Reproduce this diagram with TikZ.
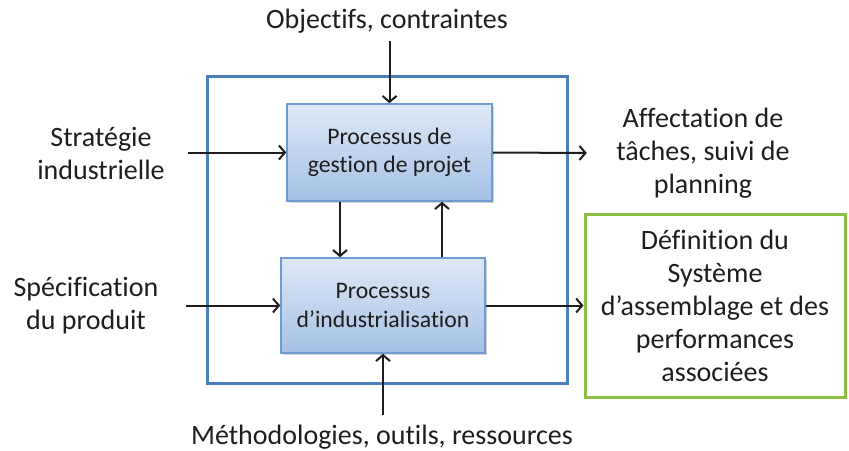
\documentclass[tikz,border=0pt]{standalone}
\usepackage{fontspec}
\setmainfont{Carlito}[Ligatures=NoCommon]
\usetikzlibrary{arrows.meta,shadows}
\definecolor{cadrebleu}{RGB}{74,126,187}
\definecolor{bordbleu}{RGB}{110,155,210}
\definecolor{hautbleu}{RGB}{222,233,247}
\definecolor{basbleu}{RGB}{164,192,229}
\definecolor{vert}{RGB}{140,190,70}
\definecolor{texte}{RGB}{30,30,30}
\tikzstyle{processus} = [
  draw=bordbleu,
  line width=1.5pt,
  rectangle,
  top color=hautbleu,
  bottom color=basbleu,
  drop shadow={shadow xshift=2pt,shadow yshift=-2pt,opacity=0.35},
  align=center,
  text=texte,
  font=\fontsize{23.7}{28.5}\selectfont,
]
\tikzstyle{etiquette} = [
  align=center,
  text=texte,
  font=\fontsize{28}{33}\selectfont,
]
\tikzstyle{resultat} = [
  draw=vert,
  line width=3pt,
  rectangle,
  align=center,
  text=texte,
  font=\fontsize{28}{33}\selectfont,
]

\begin{document}
\begin{tikzpicture}[
    x=1pt,y=-1pt,
    >={Straight Barb[length=6pt,width=14pt]},
    fleche/.style={->,line width=2pt,draw=texte},
  ]
  \useasboundingbox (0,0) rectangle (849,450);
  \node[
    draw=cadrebleu,
    line width=3pt,
    minimum width=360pt,
    minimum height=307pt,
  ](cadre) at (387,229.5){};
  \node[
    processus,
    minimum width=205pt,
    minimum height=97pt,
  ](gestion) at (389.5,152.5){Processus de\\gestion de projet};
  \node[
    processus,
    minimum width=204pt,
    minimum height=95pt,
  ](indus) at (383,305.5){Processus\\d’industrialisation};
  \node[etiquette](objectifs) at (387,21){Objectifs, contraintes};
  \node[etiquette](methodo) at (382,437){Méthodologies, outils, ressources};
  \node[etiquette](strategie) at (101,153){Stratégie\\industrielle};
  \node[etiquette](specif) at (86,306){Spécification\\du produit};
  \node[etiquette](affectation) at (703,153){Affectation de\\tâches, suivi de\\planning};
  \node[
    resultat,
    minimum width=260pt,
    minimum height=183pt,
  ](definition) at (715,305.5){Définition du\\Système\\d’assemblage et des\\performances\\associées};
  \draw[fleche] ([yshift=-4pt]objectifs.south -| gestion.north) -- (gestion.north);
  \draw[fleche] ([yshift=6pt]methodo.north -| indus.south) -- (indus.south);
  \draw[fleche] (188,0 |- gestion.west) -- (gestion.west);
  \draw[fleche] (186,0 |- indus.west) -- (indus.west);
  \draw[fleche] (gestion.east) -- ([xshift=-26pt]affectation.west);
  \draw[fleche] (indus.east) -- (definition.west);
  \draw[fleche] ([xshift=-49.5pt]gestion.south) -- ([xshift=-49.5pt]gestion.south |- indus.north);
  \draw[fleche] ([xshift=59pt]indus.north) -- ([xshift=59pt]indus.north |- gestion.south);
\end{tikzpicture}
\end{document}
